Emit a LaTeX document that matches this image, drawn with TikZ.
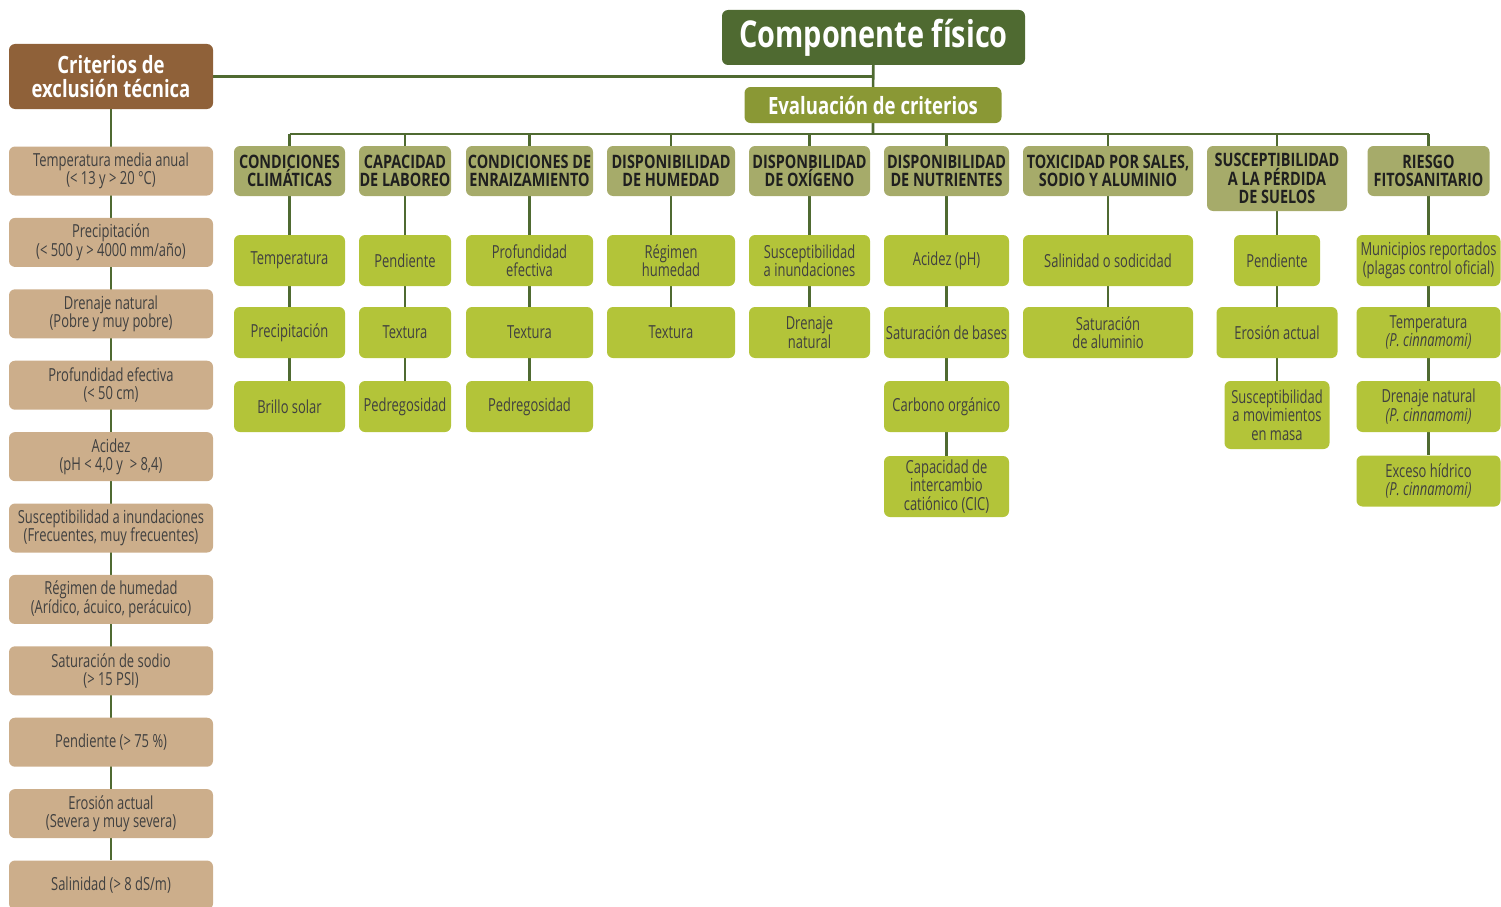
\documentclass[tikz,border=0pt]{standalone}
\usepackage{fontspec}
\setmainfont{Open Sans}[FakeStretch=0.72]
\newfontfamily\negrita{Open Sans}[FakeStretch=0.78]
\usetikzlibrary{backgrounds}
\definecolor{verdeosc}{RGB}{79,106,49}
\definecolor{cafe}{RGB}{143,97,57}
\definecolor{arena}{RGB}{204,174,139}
\definecolor{oliva}{RGB}{138,152,53}
\definecolor{grisverde}{RGB}{166,171,106}
\definecolor{lima}{RGB}{179,196,57}
\tikzset{
	caja/.style={rounded corners=6pt,inner sep=0pt,align=center,
		font=\fontsize{18}{18.5}\selectfont,text=black!75},
	criterio/.style={caja,fill=arena,minimum width=204pt,minimum height=49pt},
	grupo/.style={caja,fill=grisverde,minimum height=50pt,text=black!88,
		font=\negrita\bfseries\fontsize{18.5}{18.5}\selectfont},
	hoja/.style={caja,fill=lima,minimum height=51pt},
	linea/.style={verdeosc,line width=2.6pt}
}
\begin{document}
\begin{tikzpicture}[x=1pt,y=-1pt]
	\useasboundingbox (0,0) rectangle (1501,907);
	% cabeceras
	\node[caja,fill=verdeosc,text=white,minimum width=303pt,minimum height=55pt,
		font=\negrita\bfseries\fontsize{37}{40}\selectfont] (fisico) at (873.5,37.5) {Componente físico};
	\node[caja,fill=oliva,text=white,minimum width=257pt,minimum height=36pt,
		font=\negrita\bfseries\fontsize{23.8}{24}\selectfont] (eval) at (873,105) {Evaluación de criterios};
	\node[caja,fill=cafe,text=white,minimum width=204pt,minimum height=65pt,
		font=\negrita\bfseries\fontsize{23.8}{24}\selectfont] (excl) at (111,76.5) {Criterios de\\exclusión técnica};
	% columna de exclusion
	\foreach \i/\t in {1/{Temperatura media anual\\(< 13 y > 20 °C)},
		2/{Precipitación\\(< 500 y > 4000 mm/año)},
		3/{Drenaje natural\\(Pobre y muy pobre)},
		4/{Profundidad efectiva\\(< 50 cm)},
		5/{Acidez\\(pH < 4,0 y~ > 8,4)},
		6/{Susceptibilidad a inundaciones\\(Frecuentes, muy frecuentes)},
		7/{Régimen de humedad\\(Arídico, ácuico, perácuico)},
		8/{Saturación de sodio\\(> 15 PSI)},
		9/{Pendiente (> 75 \%)},
		10/{Erosión actual\\(Severa y muy severa)},
		11/{Salinidad (> 8 dS/m)}}{
		\node[criterio] (e\i) at (111,{171+(\i-1)*71.4}) {\t};
	}
	% grupos
	\node[grupo,minimum width=111pt] (g1) at (289.5,171) {CONDICIONES\\CLIMÁTICAS};
	\node[grupo,minimum width=92pt] (g2) at (405,171) {CAPACIDAD\\DE LABOREO};
	\node[grupo,minimum width=127pt] (g3) at (529.5,171) {CONDICIONES DE\\ENRAIZAMIENTO};
	\node[grupo,minimum width=128pt] (g4) at (671,171) {DISPONIBILIDAD\\DE HUMEDAD};
	\node[grupo,minimum width=121pt] (g5) at (809.5,171) {DISPONBILIDAD\\DE OXÍGENO};
	\node[grupo,minimum width=125pt] (g6) at (946.5,171) {DISPONIBILIDAD\\DE NUTRIENTES};
	\node[grupo,minimum width=170pt] (g7) at (1108,171) {TOXICIDAD POR SALES,\\SODIO Y ALUMINIO};
	\node[grupo,minimum width=140pt,minimum height=65pt] (g8) at (1277,178.5) {SUSCEPTIBILIDAD\\A LA PÉRDIDA\\DE SUELOS};
	\node[grupo,minimum width=122pt] (g9) at (1428.5,171) {RIESGO\\FITOSANITARIO};
	% criterios de cada grupo
	\node[hoja,minimum width=111pt] (h1a) at (289.5,260.5) {Temperatura};
	\node[hoja,minimum width=111pt] (h1b) at (289.5,332.5) {Precipitación};
	\node[hoja,minimum width=111pt] (h1c) at (289.5,406.5) {Brillo solar};
	\node[hoja,minimum width=92pt] (h2a) at (405,260.5) {Pendiente};
	\node[hoja,minimum width=92pt] (h2b) at (405,332.5) {Textura};
	\node[hoja,minimum width=92pt] (h2c) at (405,406.5) {Pedregosidad};
	\node[hoja,minimum width=127pt] (h3a) at (529.5,260.5) {Profundidad\\efectiva};
	\node[hoja,minimum width=127pt] (h3b) at (529.5,332.5) {Textura};
	\node[hoja,minimum width=127pt] (h3c) at (529.5,406.5) {Pedregosidad};
	\node[hoja,minimum width=128pt] (h4a) at (671,260.5) {Régimen\\humedad};
	\node[hoja,minimum width=128pt] (h4b) at (671,332.5) {Textura};
	\node[hoja,minimum width=121pt] (h5a) at (809.5,260.5) {Susceptibilidad\\a inundaciones};
	\node[hoja,minimum width=121pt] (h5b) at (809.5,332.5) {Drenaje\\natural};
	\node[hoja,minimum width=125pt] (h6a) at (946.5,260.5) {Acidez (pH)};
	\node[hoja,minimum width=125pt] (h6b) at (946.5,332.5) {Saturación de bases};
	\node[hoja,minimum width=125pt] (h6c) at (946.5,406.5) {Carbono orgánico};
	\node[hoja,minimum width=125pt,minimum height=61pt] (h6d) at (946.5,486.5) {Capacidad de\\intercambio\\catiónico (CIC)};
	\node[hoja,minimum width=170pt] (h7a) at (1108,260.5) {Salinidad o sodicidad};
	\node[hoja,minimum width=170pt] (h7b) at (1108,332.5) {Saturación\\de aluminio};
	\node[hoja,minimum width=86pt] (h8a) at (1277,260.5) {Pendiente};
	\node[hoja,minimum width=121pt] (h8b) at (1277,332.5) {Erosión actual};
	\node[hoja,minimum width=105pt,minimum height=68pt] (h8c) at (1277,415) {Susceptibilidad\\a movimientos\\en masa};
	\node[hoja,minimum width=144pt] (h9a) at (1428.5,260.5) {Municipios reportados\\(plagas control oficial)};
	\node[hoja,minimum width=144pt] (h9b) at (1428.5,332.5) {Temperatura\\\textit{(P. cinnamomi)}};
	\node[hoja,minimum width=144pt] (h9c) at (1428.5,406.5) {Drenaje natural\\\textit{(P. cinnamomi)}};
	\node[hoja,minimum width=144pt] (h9d) at (1428.5,481) {Exceso hídrico\\\textit{(P. cinnamomi)}};
	% conectores
	\begin{scope}[on background layer]
		\coordinate (bus) at (873,134);
		\draw[linea] (excl) -- (e11);
		\draw[linea] (excl.east) -- (excl.east -| fisico.south);
		\draw[linea] (fisico) -- (eval) -- (bus);
		\draw[linea,line width=2.3pt] (bus -| g1) -- (bus -| g9);
		\foreach \g in {1,...,9}{
			\draw[linea,line width=2.3pt] (bus -| g\g) -- (g\g);
		}
		\draw[linea] (g1) -- (h1c);
		\draw[linea] (g2) -- (h2c);
		\draw[linea] (g3) -- (h3c);
		\draw[linea] (g4) -- (h4b);
		\draw[linea] (g5) -- (h5b);
		\draw[linea] (g6) -- (h6d);
		\draw[linea] (g7) -- (h7b);
		\draw[linea] (g8) -- (h8c);
		\draw[linea] (g9) -- (h9d);
	\end{scope}
\end{tikzpicture}
\end{document}
